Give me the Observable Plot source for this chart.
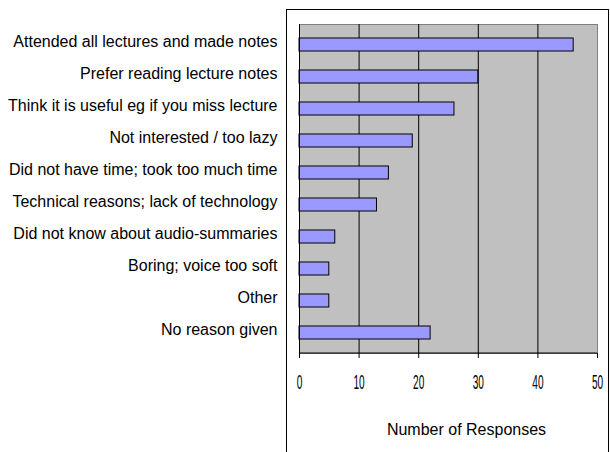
<!DOCTYPE html>
<html>
<head>
<meta charset="utf-8">
<script src="https://cdn.jsdelivr.net/npm/d3@7"></script>
<script src="https://cdn.jsdelivr.net/npm/@observablehq/plot@0.6"></script>
<style>
  html, body { margin: 0; padding: 0; background: #fff; }
  #wrap { position: relative; width: 610px; height: 452px; overflow: hidden; }
  #box { position: absolute; left: 286px; top: 9px; width: 323px; height: 460px; border: 1px solid #000; box-sizing: border-box; }
  #chart { position: absolute; left: 0; top: 0; }
</style>
</head>
<body>
<div id="wrap"><div id="box"></div><div id="chart"></div></div>
<script>
const categories = [
  "Attended all lectures and made notes",
  "Prefer reading lecture notes",
  "Think it is useful eg if you miss lecture",
  "Not interested / too lazy",
  "Did not have time; took too much time",
  "Technical reasons; lack of technology",
  "Did not know about audio-summaries",
  "Boring; voice too soft",
  "Other",
  "No reason given"
];
const values = [46, 30, 26, 19, 15, 13, 6, 5, 5, 22];
const xTicks = [0, 10, 20, 30, 40, 50];
const axisTitle = "Number of Responses";

const data = categories.map((c, i) => ({category: c, value: values[i]}));

const chart = Plot.plot({
  width: 610,
  height: 452,
  marginLeft: 299,
  marginRight: 13,
  marginTop: 24,
  marginBottom: 99,
  style: {fontFamily: "'Liberation Sans', Arial, sans-serif", fontSize: "16px", background: "transparent", color: "#000"},
  x: {domain: [0, 50], ticks: xTicks, label: null},
  y: {domain: categories, paddingInner: 0.59, paddingOuter: 0.3, label: null},
  marks: [
    Plot.frame({fill: "#C0C0C0", stroke: "#808080"}),
    Plot.ruleX(xTicks.slice(1, -1), {stroke: "#000", strokeWidth: 1}),
    Plot.barX(data, {x: "value", y: "category", fill: "#9999FF", stroke: "#000", strokeWidth: 1}),
    Plot.ruleX([0], {stroke: "#000"}),
    Plot.axisX({ticks: xTicks, tickSize: 5, tickPadding: 16, fontSize: 21, stroke: "#000", strokeOpacity: 1, label: null}),
    Plot.axisY({tickSize: 0, tickPadding: 22, fontSize: 16, dy: -3, label: null}),
    Plot.text([axisTitle], {frameAnchor: "bottom", dx: 18, dy: 81, fontSize: 16, text: d => d})
  ]
});

document.getElementById("chart").appendChild(chart);

const svg = d3.select(chart);
// bottom axis line of the plot area
svg.append("line")
  .attr("x1", 299).attr("x2", 597)
  .attr("y1", 353).attr("y2", 353)
  .attr("stroke", "#000");

// condensed tick labels like the original
svg.selectAll("g[aria-label='x-axis tick label'] text").each(function () {
  const t = this.getAttribute("transform") || "";
  this.setAttribute("transform", t + " scale(0.48,1)");
  this.setAttribute("font-size", "21");
});
</script>
</body>
</html>
